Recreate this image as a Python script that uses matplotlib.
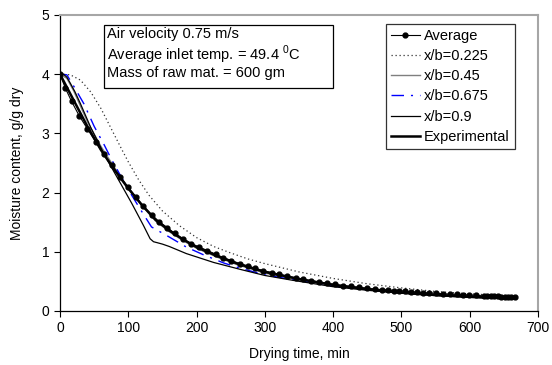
"""Drying curves: moisture content vs drying time at several bed positions."""

import matplotlib
matplotlib.use("Agg")
import matplotlib.pyplot as plt
from matplotlib.patches import Rectangle

plt.rcParams["font.family"] = ["Liberation Sans", "DejaVu Sans"]
plt.rcParams["mathtext.fontset"] = "custom"
plt.rcParams["mathtext.rm"] = "Liberation Sans"

# average of the model positions (with markers)
avg_t = [0, 8, 17, 28, 40, 52, 64, 76, 88, 99, 111, 122, 134, 145, 157, 168, 180,
         192, 204, 216, 228, 239, 251, 263, 275, 286, 298, 310, 321, 333, 345, 356,
         368, 380, 391, 403, 414, 426, 438, 449, 461, 472, 481, 489, 497, 505, 514,
         523, 532, 541, 551, 561, 571, 581, 590, 599, 609, 621, 626, 631, 636, 641,
         646, 651, 656, 661, 666]
avg_m = [4.00, 3.76, 3.54, 3.30, 3.08, 2.86, 2.65, 2.46, 2.27, 2.10, 1.93, 1.77,
         1.63, 1.51, 1.41, 1.31, 1.22, 1.14, 1.08, 1.02, 0.96, 0.90, 0.85, 0.80,
         0.76, 0.72, 0.68, 0.65, 0.62, 0.59, 0.56, 0.535, 0.51, 0.49, 0.47, 0.45,
         0.43, 0.415, 0.40, 0.385, 0.37, 0.36, 0.355, 0.345, 0.34, 0.335, 0.325,
         0.32, 0.31, 0.305, 0.30, 0.29, 0.285, 0.28, 0.275, 0.27, 0.265, 0.255,
         0.253, 0.25, 0.248, 0.246, 0.244, 0.242, 0.24, 0.238, 0.235]

# x/b = 0.225 (dotted)
p225_t = [0, 15, 30, 45, 60, 75, 90, 100, 115, 130, 150, 175, 200, 225, 250, 275,
          300, 350, 400, 450, 500, 550, 600, 666]
p225_m = [4.00, 3.99, 3.90, 3.70, 3.42, 3.08, 2.74, 2.52, 2.22, 1.96, 1.69, 1.44,
          1.24, 1.09, 0.98, 0.88, 0.80, 0.66, 0.55, 0.46, 0.39, 0.33, 0.29, 0.25]

# x/b = 0.45 (grey)
p45_t = [0, 10, 20, 40, 60, 80, 100, 120, 140, 160, 180, 200, 230, 260, 300, 350,
         400, 450, 500, 550, 600, 666]
p45_m = [4.00, 3.93, 3.72, 3.20, 2.78, 2.42, 2.08, 1.78, 1.52, 1.34, 1.19, 1.06,
         0.91, 0.78, 0.64, 0.52, 0.43, 0.36, 0.31, 0.27, 0.24, 0.21]

# x/b = 0.675 (blue dash-dot)
p675_t = [0, 10, 20, 35, 50, 65, 75, 100, 117, 134, 160, 185, 210, 240, 265, 300,
          340, 400, 450, 500, 550, 600, 666]
p675_m = [4.00, 3.99, 3.80, 3.50, 3.12, 2.80, 2.57, 2.05, 1.73, 1.42, 1.25, 1.08,
          0.95, 0.81, 0.72, 0.61, 0.53, 0.42, 0.36, 0.31, 0.27, 0.25, 0.22]

# x/b = 0.9 (thin black, kink near 140 min)
p90_t = [0, 5, 10, 15, 22, 30, 45, 65, 85, 105, 122, 132, 137, 142, 150, 160, 185,
         225, 265, 300, 340, 400, 450, 500, 550, 600, 666]
p90_m = [4.00, 4.00, 3.95, 3.85, 3.70, 3.50, 3.10, 2.64, 2.23, 1.82, 1.45, 1.22,
         1.17, 1.155, 1.13, 1.09, 0.97, 0.82, 0.70, 0.60, 0.52, 0.41, 0.35, 0.30,
         0.26, 0.23, 0.20]

# experimental (thick black)
exp_t = [0, 10, 20, 40, 60, 80, 100, 120, 140, 160, 180, 200, 230, 260, 300, 350,
         400, 450, 500, 550, 600, 666]
exp_m = [4.00, 3.78, 3.56, 3.12, 2.72, 2.38, 2.07, 1.79, 1.54, 1.36, 1.21, 1.08,
         0.93, 0.80, 0.66, 0.54, 0.44, 0.37, 0.31, 0.27, 0.24, 0.21]

W, H = 552, 365
fig = plt.figure(figsize=(W / 100, H / 100), dpi=100, facecolor="white")
ax = fig.add_axes([60 / W, 1 - 311 / H, (538 - 60) / W, (311 - 15) / H])

ax.plot(avg_t, avg_m, color="black", lw=0.8, marker="o", ms=3.5, label="Average", zorder=6)
ax.plot(p225_t, p225_m, color="#333333", lw=0.9, ls=(0, (1, 2.2)), label="x/b=0.225")
ax.plot(p45_t, p45_m, color="#7f7f7f", lw=1.0, label="x/b=0.45")
ax.plot(p675_t, p675_m, color="#0000ff", lw=1.0, ls=(0, (9, 5, 1.5, 5)), label="x/b=0.675")
ax.plot(p90_t, p90_m, color="black", lw=0.9, label="x/b=0.9")
ax.plot(exp_t, exp_m, color="black", lw=1.8, label="Experimental", zorder=5)

ax.set_xlim(0, 700)
ax.set_ylim(0, 5)
ax.set_xticks(range(0, 701, 100))
ax.set_yticks(range(0, 6))
ax.tick_params(direction="out", length=4, width=0.8, labelsize=10, colors="black",
               top=False, right=False)
for side in ("left", "bottom"):
    ax.spines[side].set_color("black")
    ax.spines[side].set_linewidth(0.9)
for side in ("top", "right"):
    ax.spines[side].set_color("#a6a6a6")
    ax.spines[side].set_linewidth(1.5)

ax.set_xlabel("Drying time, min", fontsize=10, labelpad=8)
ax.set_ylabel("Moisture content, g/g dry", fontsize=10, labelpad=13)

leg = ax.legend(loc="upper right", bbox_to_anchor=(515 / W, 1 - 24 / H),
                bbox_transform=fig.transFigure, borderaxespad=0, fontsize=10.5,
                frameon=True, fancybox=False, handlelength=2.0, handletextpad=0.3,
                labelspacing=0.42, borderpad=0.35)
leg.get_frame().set_edgecolor("black")
leg.get_frame().set_linewidth(0.9)

# annotation box with run conditions
fig.patches.append(Rectangle((104 / W, 1 - 88 / H), (333 - 104) / W, (88 - 25) / H,
                             transform=fig.transFigure, facecolor="white",
                             edgecolor="black", lw=0.9, zorder=3))
lines = ["Air velocity 0.75 m/s",
         "Average inlet temp. = 49.4 $^0$C",
         "Mass of raw mat. = 600 gm"]
for txt, yp in zip(lines, [34, 55, 73]):
    fig.text(107 / W, 1 - yp / H, txt, fontsize=10.5, va="center", ha="left", zorder=4)

fig.savefig("out.png", dpi=100, facecolor="white")
